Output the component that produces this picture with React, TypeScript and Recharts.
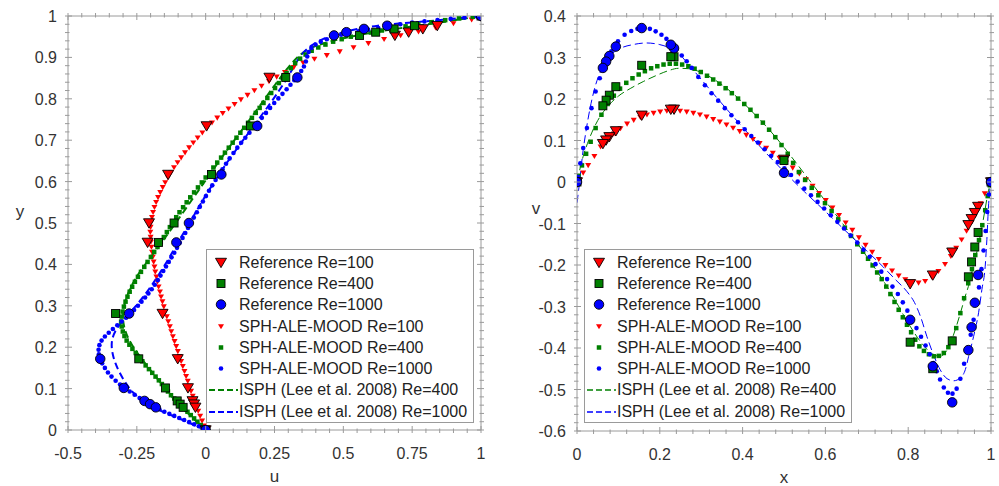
import React from "react";
import { ComposedChart, Line, XAxis, YAxis, Legend } from "recharts";

const RED = "#ff0000";
const GREEN = "#008000";
const BLUE = "#0000ff";
const AXIS = "#9a9a9a";
const TEXT = "#333333";
const FONT = "'Liberation Sans', Arial, sans-serif";

// ---------- left panel: u along the vertical centreline ----------
const REF_Y = [1, 0.9766, 0.9688, 0.9609, 0.9531, 0.8516, 0.7344, 0.6172, 0.5, 0.4531, 0.2813, 0.1719, 0.1016, 0.0703, 0.0625, 0.0547, 0];
const REF_U_100 = [1, 0.84123, 0.78871, 0.73722, 0.68717, 0.23151, 0.00332, -0.13641, -0.20581, -0.2109, -0.15662, -0.1015, -0.06434, -0.04775, -0.04192, -0.03717, 0];
const REF_U_400 = [1, 0.75837, 0.68439, 0.61756, 0.55892, 0.29093, 0.16256, 0.02135, -0.11477, -0.17119, -0.32726, -0.24299, -0.14612, -0.10338, -0.09266, -0.08186, 0];
const REF_U_1000 = [1, 0.65928, 0.57492, 0.51117, 0.46604, 0.33304, 0.18719, 0.05702, -0.0608, -0.10648, -0.27805, -0.38289, -0.2973, -0.2222, -0.20196, -0.18109, 0];

// [u, y]
const SPH_L_100 = [
  [-0.006, 0.01], [-0.013, 0.022], [-0.02, 0.034], [-0.027, 0.046], [-0.034, 0.058], [-0.041, 0.07],
  [-0.047, 0.082], [-0.053, 0.094], [-0.059, 0.106], [-0.065, 0.118], [-0.071, 0.13], [-0.077, 0.142],
  [-0.083, 0.154], [-0.089, 0.166], [-0.095, 0.178], [-0.101, 0.19], [-0.107, 0.202], [-0.113, 0.214],
  [-0.119, 0.226], [-0.125, 0.238], [-0.13, 0.25], [-0.136, 0.262], [-0.141, 0.274], [-0.147, 0.286],
  [-0.152, 0.298], [-0.157, 0.31], [-0.162, 0.322], [-0.166, 0.334], [-0.171, 0.346], [-0.175, 0.358],
  [-0.179, 0.37], [-0.183, 0.382], [-0.186, 0.394], [-0.189, 0.406], [-0.192, 0.418], [-0.195, 0.43],
  [-0.197, 0.442], [-0.199, 0.454], [-0.2, 0.466], [-0.201, 0.478], [-0.2, 0.49], [-0.198, 0.502],
  [-0.195, 0.514], [-0.191, 0.526], [-0.186, 0.538], [-0.18, 0.55], [-0.173, 0.562], [-0.165, 0.574],
  [-0.156, 0.586], [-0.147, 0.598], [-0.137, 0.61], [-0.126, 0.622], [-0.115, 0.634], [-0.102, 0.646],
  [-0.089, 0.658], [-0.075, 0.67], [-0.06, 0.682], [-0.045, 0.694], [-0.029, 0.706], [-0.012, 0.718],
  [0.005, 0.73], [0.023, 0.742], [0.042, 0.754], [0.062, 0.765], [0.083, 0.776], [0.105, 0.787],
  [0.128, 0.798], [0.152, 0.809], [0.177, 0.82], [0.203, 0.831], [0.23, 0.842], [0.258, 0.853],
  [0.288, 0.864], [0.32, 0.876], [0.354, 0.887], [0.395, 0.896], [0.44, 0.905], [0.487, 0.914],
  [0.537, 0.924], [0.591, 0.934], [0.648, 0.944], [0.708, 0.953], [0.773, 0.962], [0.835, 0.972],
  [0.9, 0.982], [0.966, 0.991],
];

const SPH_L_400 = [
  [-0.007, 0.004], [-0.018, 0.012], [-0.03, 0.02], [-0.042, 0.028], [-0.054, 0.036], [-0.066, 0.044],
  [-0.078, 0.052], [-0.09, 0.06], [-0.102, 0.068], [-0.114, 0.076], [-0.126, 0.084], [-0.137, 0.093],
  [-0.148, 0.102], [-0.159, 0.111], [-0.17, 0.12], [-0.182, 0.129], [-0.194, 0.138], [-0.206, 0.147],
  [-0.218, 0.156], [-0.23, 0.166], [-0.242, 0.176], [-0.254, 0.186], [-0.266, 0.196], [-0.277, 0.206],
  [-0.287, 0.216], [-0.295, 0.227], [-0.301, 0.238], [-0.305, 0.25], [-0.307, 0.262], [-0.305, 0.274],
  [-0.302, 0.286], [-0.297, 0.298], [-0.291, 0.31], [-0.284, 0.322], [-0.276, 0.334], [-0.267, 0.346],
  [-0.257, 0.358], [-0.246, 0.37], [-0.235, 0.382], [-0.223, 0.394], [-0.211, 0.406], [-0.199, 0.418],
  [-0.187, 0.43], [-0.175, 0.442], [-0.163, 0.454], [-0.152, 0.466], [-0.141, 0.478], [-0.13, 0.49],
  [-0.119, 0.502], [-0.107, 0.514], [-0.095, 0.526], [-0.082, 0.538], [-0.069, 0.55], [-0.056, 0.562],
  [-0.042, 0.574], [-0.028, 0.586], [-0.014, 0.598], [0, 0.61], [0.014, 0.622], [0.028, 0.634],
  [0.042, 0.646], [0.056, 0.658], [0.07, 0.67], [0.084, 0.682], [0.098, 0.694], [0.112, 0.706],
  [0.126, 0.718], [0.14, 0.73], [0.154, 0.742], [0.168, 0.754], [0.182, 0.766], [0.196, 0.778],
  [0.21, 0.79], [0.224, 0.802], [0.238, 0.814], [0.252, 0.826], [0.266, 0.838], [0.28, 0.85],
  [0.294, 0.862], [0.309, 0.874], [0.325, 0.886], [0.343, 0.897], [0.363, 0.907], [0.385, 0.916],
  [0.409, 0.924], [0.435, 0.931], [0.463, 0.938], [0.494, 0.944], [0.527, 0.95], [0.562, 0.955],
  [0.6, 0.96], [0.64, 0.965], [0.682, 0.97], [0.726, 0.975], [0.772, 0.98], [0.82, 0.985],
  [0.87, 0.99], [0.92, 0.994], [0.97, 0.998],
];

const SPH_L_1000 = [
  [-0.008, 0.003], [-0.025, 0.009], [-0.042, 0.014], [-0.06, 0.019], [-0.078, 0.024], [-0.096, 0.029],
  [-0.114, 0.034], [-0.132, 0.039], [-0.15, 0.044], [-0.168, 0.05], [-0.186, 0.056], [-0.204, 0.062],
  [-0.222, 0.069], [-0.24, 0.077], [-0.258, 0.085], [-0.276, 0.093], [-0.294, 0.101], [-0.311, 0.11],
  [-0.327, 0.119], [-0.342, 0.129], [-0.355, 0.139], [-0.366, 0.15], [-0.376, 0.161], [-0.383, 0.172],
  [-0.388, 0.183], [-0.389, 0.194], [-0.386, 0.205], [-0.378, 0.216], [-0.366, 0.226], [-0.352, 0.235],
  [-0.337, 0.244], [-0.321, 0.253], [-0.305, 0.262], [-0.289, 0.271], [-0.274, 0.28], [-0.26, 0.29],
  [-0.246, 0.3], [-0.233, 0.31], [-0.22, 0.32], [-0.208, 0.33], [-0.196, 0.34], [-0.185, 0.351],
  [-0.174, 0.362], [-0.164, 0.373], [-0.154, 0.384], [-0.144, 0.395], [-0.134, 0.406], [-0.124, 0.417],
  [-0.114, 0.428], [-0.104, 0.44], [-0.094, 0.452], [-0.084, 0.464], [-0.074, 0.476], [-0.064, 0.488],
  [-0.054, 0.5], [-0.043, 0.513], [-0.032, 0.526], [-0.021, 0.539], [-0.01, 0.552], [0.001, 0.565],
  [0.012, 0.578], [0.024, 0.591], [0.036, 0.604], [0.048, 0.617], [0.061, 0.63], [0.074, 0.643],
  [0.087, 0.656], [0.101, 0.669], [0.115, 0.682], [0.129, 0.694], [0.144, 0.706], [0.159, 0.718],
  [0.174, 0.73], [0.189, 0.742], [0.204, 0.754], [0.219, 0.766], [0.234, 0.778], [0.249, 0.79],
  [0.264, 0.801], [0.279, 0.812], [0.294, 0.823], [0.308, 0.834], [0.322, 0.845], [0.335, 0.856],
  [0.347, 0.867], [0.357, 0.878], [0.364, 0.89], [0.369, 0.902], [0.374, 0.913], [0.384, 0.923],
  [0.399, 0.931], [0.418, 0.938], [0.44, 0.944], [0.465, 0.95], [0.492, 0.955], [0.522, 0.959],
  [0.555, 0.963], [0.59, 0.967], [0.627, 0.971], [0.666, 0.976], [0.707, 0.98], [0.75, 0.984],
  [0.795, 0.987], [0.842, 0.99], [0.89, 0.993], [0.94, 0.996], [0.985, 0.999],
];

const ISPH_L_400 = [
  [0, 0], [-0.02, 0.012], [-0.045, 0.028], [-0.075, 0.047], [-0.105, 0.067], [-0.135, 0.09],
  [-0.165, 0.115], [-0.195, 0.14], [-0.228, 0.168], [-0.258, 0.195], [-0.283, 0.222], [-0.298, 0.25],
  [-0.302, 0.278], [-0.294, 0.31], [-0.275, 0.342], [-0.25, 0.372], [-0.22, 0.4], [-0.185, 0.43],
  [-0.15, 0.462], [-0.112, 0.497], [-0.072, 0.535], [-0.03, 0.575], [0.015, 0.617], [0.06, 0.66],
  [0.11, 0.705], [0.16, 0.75], [0.21, 0.795], [0.255, 0.837], [0.295, 0.872], [0.33, 0.9],
  [0.37, 0.92], [0.415, 0.932], [0.5, 0.947], [0.62, 0.962], [0.74, 0.974], [0.87, 0.986], [1, 1],
];

const ISPH_L_1000 = [
  [0, 0], [-0.03, 0.008], [-0.068, 0.02], [-0.105, 0.03], [-0.141, 0.04], [-0.178, 0.051],
  [-0.213, 0.064], [-0.24, 0.076], [-0.262, 0.089], [-0.282, 0.105], [-0.298, 0.121], [-0.315, 0.141],
  [-0.328, 0.161], [-0.337, 0.18], [-0.342, 0.2], [-0.341, 0.218], [-0.33, 0.238], [-0.31, 0.257],
  [-0.285, 0.276], [-0.258, 0.296], [-0.232, 0.317], [-0.206, 0.34], [-0.182, 0.363], [-0.158, 0.388],
  [-0.135, 0.413], [-0.112, 0.44], [-0.088, 0.467], [-0.063, 0.495], [-0.036, 0.526], [-0.008, 0.558],
  [0.022, 0.59], [0.055, 0.624], [0.09, 0.658], [0.127, 0.692], [0.165, 0.726], [0.203, 0.76],
  [0.238, 0.792], [0.265, 0.818], [0.29, 0.843], [0.312, 0.868], [0.332, 0.892], [0.355, 0.913],
  [0.385, 0.93], [0.425, 0.945], [0.48, 0.958], [0.55, 0.969], [0.62, 0.977], [0.72, 0.983],
  [0.82, 0.988], [0.91, 0.994], [1, 1],
];

// ---------- right panel: v along the horizontal centreline ----------
const REF_X = [1, 0.9688, 0.9609, 0.9531, 0.9453, 0.9063, 0.8594, 0.8047, 0.5, 0.2344, 0.2266, 0.1563, 0.0938, 0.0781, 0.0703, 0.0625, 0];
const REF_V_100 = [0, -0.05906, -0.07391, -0.08864, -0.10313, -0.16914, -0.22445, -0.24533, 0.05454, 0.17527, 0.17507, 0.16077, 0.12317, 0.1089, 0.10091, 0.09233, 0];
const REF_V_400 = [0, -0.12146, -0.15663, -0.19254, -0.22847, -0.38289, -0.44993, -0.38598, 0.05186, 0.30174, 0.30203, 0.28124, 0.22965, 0.2092, 0.19713, 0.1836, 0];
const REF_V_1000 = [0, -0.224, -0.291, -0.35, -0.405, -0.531, -0.444, -0.332, 0.022, 0.32235, 0.33075, 0.37095, 0.32627, 0.30353, 0.29012, 0.27485, 0];

// [x, v]
const SPH_R_100 = [
  [0.005, 0.006], [0.015, 0.022], [0.027, 0.04], [0.042, 0.062], [0.057, 0.085], [0.073, 0.101],
  [0.089, 0.116], [0.105, 0.129], [0.121, 0.14], [0.137, 0.149], [0.153, 0.156], [0.169, 0.162],
  [0.185, 0.166], [0.201, 0.169], [0.217, 0.171], [0.233, 0.172], [0.249, 0.171], [0.265, 0.169],
  [0.281, 0.166], [0.297, 0.162], [0.313, 0.157], [0.329, 0.151], [0.345, 0.145], [0.361, 0.138],
  [0.377, 0.13], [0.393, 0.122], [0.409, 0.113], [0.425, 0.103], [0.441, 0.093], [0.457, 0.082],
  [0.473, 0.07], [0.489, 0.058], [0.505, 0.046], [0.521, 0.034], [0.537, 0.02], [0.553, 0.006],
  [0.569, -0.01], [0.585, -0.027], [0.601, -0.044], [0.617, -0.062], [0.633, -0.08], [0.649, -0.098],
  [0.665, -0.116], [0.681, -0.134], [0.697, -0.152], [0.713, -0.169], [0.729, -0.186], [0.745, -0.201],
  [0.761, -0.214], [0.777, -0.226], [0.793, -0.235], [0.809, -0.241], [0.825, -0.243], [0.841, -0.239],
  [0.857, -0.229], [0.873, -0.215], [0.889, -0.198], [0.903, -0.179], [0.916, -0.159], [0.929, -0.139],
  [0.941, -0.118], [0.953, -0.097], [0.964, -0.075], [0.975, -0.052], [0.985, -0.028], [0.994, -0.005],
];

const SPH_R_400 = [
  [0.004, 0.015], [0.012, 0.04], [0.022, 0.068], [0.033, 0.097], [0.045, 0.13], [0.059, 0.162],
  [0.074, 0.188], [0.089, 0.208], [0.104, 0.225], [0.119, 0.239], [0.134, 0.25], [0.149, 0.259],
  [0.164, 0.267], [0.179, 0.274], [0.194, 0.279], [0.209, 0.283], [0.224, 0.285], [0.239, 0.285],
  [0.254, 0.283], [0.269, 0.279], [0.284, 0.273], [0.299, 0.265], [0.314, 0.256], [0.329, 0.247],
  [0.344, 0.237], [0.359, 0.226], [0.374, 0.214], [0.389, 0.201], [0.404, 0.188], [0.419, 0.174],
  [0.434, 0.159], [0.449, 0.143], [0.464, 0.126], [0.479, 0.108], [0.494, 0.089], [0.509, 0.068],
  [0.522, 0.046], [0.536, 0.024], [0.551, 0.005], [0.567, -0.014], [0.583, -0.032], [0.599, -0.051],
  [0.615, -0.07], [0.631, -0.09], [0.647, -0.11], [0.662, -0.13], [0.677, -0.15], [0.691, -0.168],
  [0.703, -0.185], [0.714, -0.201], [0.725, -0.218], [0.736, -0.234], [0.747, -0.252], [0.757, -0.27],
  [0.767, -0.289], [0.777, -0.308], [0.787, -0.326], [0.797, -0.344], [0.807, -0.362], [0.817, -0.38],
  [0.827, -0.396], [0.838, -0.407], [0.85, -0.415], [0.862, -0.42], [0.874, -0.419], [0.886, -0.412],
  [0.897, -0.398], [0.907, -0.378], [0.916, -0.352], [0.926, -0.316], [0.935, -0.28], [0.945, -0.244],
  [0.954, -0.21], [0.962, -0.176], [0.971, -0.14], [0.979, -0.104], [0.986, -0.068], [0.992, -0.034],
  [0.997, -0.008],
];

const SPH_R_1000 = [
  [0.003, 0.012], [0.008, 0.045], [0.015, 0.082], [0.024, 0.13], [0.035, 0.178], [0.045, 0.218],
  [0.055, 0.25], [0.068, 0.285], [0.083, 0.315], [0.099, 0.339], [0.115, 0.355], [0.131, 0.364],
  [0.146, 0.369], [0.161, 0.371], [0.176, 0.369], [0.19, 0.363], [0.204, 0.355], [0.216, 0.345],
  [0.228, 0.333], [0.24, 0.319], [0.253, 0.305], [0.265, 0.291], [0.277, 0.275], [0.293, 0.253],
  [0.309, 0.233], [0.325, 0.214], [0.341, 0.196], [0.357, 0.178], [0.373, 0.161], [0.389, 0.144],
  [0.405, 0.127], [0.421, 0.111], [0.437, 0.095], [0.453, 0.079], [0.469, 0.063], [0.485, 0.048],
  [0.501, 0.033], [0.517, 0.017], [0.533, 0.001], [0.549, -0.016], [0.565, -0.032], [0.581, -0.048],
  [0.597, -0.064], [0.613, -0.08], [0.629, -0.096], [0.645, -0.112], [0.661, -0.129], [0.677, -0.146],
  [0.692, -0.163], [0.707, -0.18], [0.721, -0.198], [0.735, -0.216], [0.749, -0.234], [0.762, -0.252],
  [0.775, -0.27], [0.787, -0.29], [0.798, -0.31], [0.809, -0.331], [0.82, -0.352], [0.831, -0.373],
  [0.842, -0.394], [0.852, -0.415], [0.861, -0.436], [0.869, -0.456], [0.877, -0.476], [0.886, -0.495],
  [0.896, -0.508], [0.907, -0.51], [0.917, -0.498], [0.926, -0.474], [0.935, -0.438], [0.943, -0.403],
  [0.951, -0.368], [0.958, -0.332], [0.965, -0.294], [0.971, -0.254], [0.977, -0.21], [0.982, -0.165],
  [0.987, -0.118], [0.991, -0.072], [0.995, -0.03],
];

const ISPH_R_400 = [
  [0, 0], [0.008, 0.035], [0.015, 0.062], [0.03, 0.105], [0.05, 0.148], [0.075, 0.183],
  [0.1, 0.207], [0.13, 0.226], [0.16, 0.242], [0.19, 0.256], [0.22, 0.268], [0.245, 0.274],
  [0.27, 0.273], [0.3, 0.264], [0.33, 0.248], [0.36, 0.227], [0.4, 0.192], [0.44, 0.152],
  [0.48, 0.108], [0.52, 0.058], [0.56, 0.006], [0.6, -0.046], [0.64, -0.098], [0.68, -0.152],
  [0.72, -0.208], [0.76, -0.27], [0.8, -0.34], [0.83, -0.385], [0.861, -0.416], [0.877, -0.42],
  [0.889, -0.412], [0.902, -0.388], [0.914, -0.355], [0.926, -0.316], [0.938, -0.275], [0.95, -0.235],
  [0.958, -0.198], [0.966, -0.168], [0.976, -0.12], [0.985, -0.07], [0.993, -0.025], [1, 0],
];

const ISPH_R_1000 = [
  [0, -0.05], [0.0065, 0.002], [0.013, 0.062], [0.021, 0.118], [0.031, 0.175], [0.043, 0.227],
  [0.059, 0.271], [0.079, 0.303], [0.107, 0.323], [0.135, 0.331], [0.168, 0.335], [0.2, 0.331],
  [0.224, 0.323], [0.248, 0.307], [0.273, 0.279], [0.297, 0.251], [0.33, 0.212], [0.37, 0.166],
  [0.41, 0.121], [0.45, 0.077], [0.5, 0.025], [0.55, -0.024], [0.6, -0.071], [0.65, -0.119],
  [0.7, -0.166], [0.74, -0.205], [0.77, -0.236], [0.797, -0.264], [0.815, -0.29], [0.83, -0.325],
  [0.845, -0.372], [0.861, -0.416], [0.877, -0.452], [0.894, -0.474], [0.91, -0.479], [0.926, -0.472],
  [0.938, -0.452], [0.946, -0.42], [0.958, -0.372], [0.97, -0.315], [0.978, -0.259], [0.986, -0.203],
  [0.99, -0.139], [0.994, -0.058], [0.998, -0.01],
];

// ---------- axis ticks ----------
const U_MAJOR = [-0.5, -0.25, 0, 0.25, 0.5, 0.75, 1];
const Y_MAJOR = [0, 0.1, 0.2, 0.3, 0.4, 0.5, 0.6, 0.7, 0.8, 0.9, 1];
const X_MAJOR = [0, 0.2, 0.4, 0.6, 0.8, 1];
const V_MAJOR = [-0.6, -0.5, -0.4, -0.3, -0.2, -0.1, 0, 0.1, 0.2, 0.3, 0.4];

const LABELS = [
  "Reference Re=100",
  "Reference Re=400",
  "Reference Re=1000",
  "SPH-ALE-MOOD Re=100",
  "SPH-ALE-MOOD Re=400",
  "SPH-ALE-MOOD Re=1000",
  "ISPH (Lee et al. 2008) Re=400",
  "ISPH (Lee et al. 2008) Re=1000",
];

type Shape = "tri" | "square" | "circle";
type Pt = { x: number; y: number };

function withMinor(majors: number[], parts: number) {
  const out: number[] = [];
  majors.forEach((m, i) => {
    out.push(m);
    const next = majors[i + 1];
    if (next === undefined) return;
    for (let k = 1; k < parts; k++) out.push(m + ((next - m) * k) / parts);
  });
  return out;
}

const fromColumns = (xs: number[], ys: number[]): Pt[] => xs.map((x, i) => ({ x, y: ys[i] }));
const fromPairs = (pairs: number[][]): Pt[] => pairs.map(([x, y]) => ({ x, y }));

function Marker({ cx, cy, shape, size, fill, edge }: { cx: number; cy: number; shape: Shape; size: number; fill: string; edge: boolean }) {
  if (cx == null || cy == null || isNaN(cx) || isNaN(cy)) return null;
  const stroke = edge ? "#000" : "none";
  if (shape === "tri") {
    const w = size / 2;
    const h = size * 0.85;
    const pts = `${cx - w},${cy - h * 0.45} ${cx + w},${cy - h * 0.45} ${cx},${cy + h * 0.55}`;
    return <polygon points={pts} fill={fill} stroke={stroke} strokeWidth={0.9} />;
  }
  if (shape === "square") {
    return <rect x={cx - size / 2} y={cy - size / 2} width={size} height={size} fill={fill} stroke={stroke} strokeWidth={0.9} />;
  }
  return <circle cx={cx} cy={cy} r={size / 2} fill={fill} stroke={stroke} strokeWidth={0.9} />;
}

type Side = "bottom" | "top" | "left" | "right";

function axisTick(side: Side, majors: number[], labelled: boolean) {
  return (p: any) => {
    const { x, y, payload } = p;
    const v = payload.value as number;
    const major = majors.some((m) => Math.abs(m - v) < 1e-9);
    const out = 3;
    const inn = major ? 4 : 1.5;
    let tick;
    let label = null;
    if (side === "bottom") {
      tick = <line x1={x} x2={x} y1={y + out} y2={y - inn} stroke={AXIS} />;
      if (labelled && major)
        label = <text x={x} y={y + 29} textAnchor="middle" fill={TEXT} fontSize={16} fontFamily={FONT}>{String(v)}</text>;
    } else if (side === "top") {
      tick = <line x1={x} x2={x} y1={y - out} y2={y + inn} stroke={AXIS} />;
    } else if (side === "left") {
      tick = <line x1={x - out} x2={x + inn} y1={y} y2={y} stroke={AXIS} />;
      if (labelled && major)
        label = <text x={x - 11} y={y + 6} textAnchor="end" fill={TEXT} fontSize={16} fontFamily={FONT}>{String(v)}</text>;
    } else {
      tick = <line x1={x + out} x2={x - inn} y1={y} y2={y} stroke={AXIS} />;
    }
    return (
      <g>
        {tick}
        {label}
      </g>
    );
  };
}

const axisTitle = (text: string, where: "x" | "y", dx: number, dy = -6) => (props: any) => {
  const vb = props.viewBox || { x: 0, y: 0, width: 0, height: 0 };
  const x = where === "x" ? vb.x + vb.width / 2 : vb.x + dx;
  const y = where === "x" ? vb.y + 52 : vb.y + vb.height / 2 + dy;
  return (
    <text x={x} y={y} textAnchor="middle" fill={TEXT} fontSize={17} fontFamily={FONT}>
      {text}
    </text>
  );
};

type SeriesStyle = { kind: "ref" | "sph" | "dash"; shape?: Shape; color: string };
const STYLES: SeriesStyle[] = [
  { kind: "ref", shape: "tri", color: RED },
  { kind: "ref", shape: "square", color: GREEN },
  { kind: "ref", shape: "circle", color: BLUE },
  { kind: "sph", shape: "tri", color: RED },
  { kind: "sph", shape: "square", color: GREEN },
  { kind: "sph", shape: "circle", color: BLUE },
  { kind: "dash", color: GREEN },
  { kind: "dash", color: BLUE },
];

const markerSize = (s: SeriesStyle) =>
  s.kind === "ref" ? (s.shape === "tri" ? 11 : s.shape === "square" ? 8 : 9.5) : s.shape === "tri" ? 6 : s.shape === "square" ? 4.5 : 4.6;

function LegendBox({ dashWidth }: { dashWidth: number }) {
  return (
    <div
      style={{
        boxSizing: "border-box",
        width: "100%",
        height: "100%",
        border: `1px solid ${AXIS}`,
        background: "#fff",
        paddingTop: 1.5,
        fontFamily: FONT,
        fontSize: 16,
        color: "#222",
      }}
    >
      {LABELS.map((label, i) => {
        const s = STYLES[i];
        return (
          <div key={label} style={{ display: "flex", alignItems: "center", height: 21.3 }}>
            <svg width={32} height={21} style={{ flex: "none" }}>
              {s.kind === "dash" ? (
                <line x1={2} x2={31} y1={11} y2={11} stroke={s.color} strokeWidth={Math.max(dashWidth, 1.4)} strokeDasharray="6 3" />
              ) : (
                <Marker cx={14} cy={10.5} shape={s.shape as Shape} size={markerSize(s)} fill={s.color} edge={s.kind === "ref"} />
              )}
            </svg>
            <span style={{ whiteSpace: "nowrap", lineHeight: "21px" }}>{label}</span>
          </div>
        );
      })}
    </div>
  );
}

type PanelProps = {
  series: Pt[][];
  xDomain: [number, number];
  yDomain: [number, number];
  xMajor: number[];
  yMajor: number[];
  xParts: number;
  yParts: number;
  xTitle: string;
  yTitle: string;
  width: number;
  margin: { top: number; right: number; bottom: number; left: number };
  yAxisWidth: number;
  xAxisHeight: number;
  yTitleDx: number;
  yTitleDy: number;
  curve: "basis" | "monotone";
  dashWidth: number;
  dash: string;
  legendPos: { left: number; top: number; width: number; height: number };
};

function Panel(p: PanelProps) {
  const xTicks = withMinor(p.xMajor, p.xParts);
  const yTicks = withMinor(p.yMajor, p.yParts);
  const order = [3, 4, 5, 6, 7, 0, 1, 2];
  return (
    <ComposedChart width={p.width} height={486} margin={p.margin}>
      <XAxis
        xAxisId="b"
        type="number"
        dataKey="x"
        domain={p.xDomain}
        allowDataOverflow
        ticks={xTicks}
        interval={0}
        tickSize={0}
        tickMargin={0}
        tickLine={false}
        axisLine={{ stroke: AXIS }}
        height={p.xAxisHeight}
        tick={axisTick("bottom", p.xMajor, true)}
        label={{ content: axisTitle(p.xTitle, "x", 0) }}
      />
      <XAxis
        xAxisId="t"
        orientation="top"
        type="number"
        dataKey="x"
        domain={p.xDomain}
        allowDataOverflow
        ticks={xTicks}
        interval={0}
        tickSize={0}
        tickMargin={0}
        tickLine={false}
        axisLine={{ stroke: AXIS }}
        height={4}
        tick={axisTick("top", p.xMajor, false)}
      />
      <YAxis
        yAxisId="l"
        type="number"
        dataKey="y"
        domain={p.yDomain}
        allowDataOverflow
        ticks={yTicks}
        interval={0}
        tickSize={0}
        tickMargin={0}
        tickLine={false}
        axisLine={{ stroke: AXIS }}
        width={p.yAxisWidth}
        tick={axisTick("left", p.yMajor, true)}
        label={{ content: axisTitle(p.yTitle, "y", p.yTitleDx, p.yTitleDy) }}
      />
      <YAxis
        yAxisId="r"
        orientation="right"
        type="number"
        dataKey="y"
        domain={p.yDomain}
        allowDataOverflow
        ticks={yTicks}
        interval={0}
        tickSize={0}
        tickMargin={0}
        tickLine={false}
        axisLine={{ stroke: AXIS }}
        width={4}
        tick={axisTick("right", p.yMajor, false)}
      />
      {order.map((i) => {
        const s = STYLES[i];
        if (s.kind === "dash") {
          return (
            <Line
              key={LABELS[i]}
              name={LABELS[i]}
              data={p.series[i]}
              dataKey="y"
              xAxisId="b"
              yAxisId="l"
              type={p.curve}
              stroke={s.color}
              strokeWidth={p.dashWidth}
              strokeDasharray={p.dash}
              dot={false}
              activeDot={false}
              isAnimationActive={false}
            />
          );
        }
        return (
          <Line
            key={LABELS[i]}
            name={LABELS[i]}
            data={p.series[i]}
            dataKey="y"
            xAxisId="b"
            yAxisId="l"
            stroke="none"
            activeDot={false}
            dot={(d: any) => (
              <Marker
                key={`${i}-${d.index}`}
                cx={d.cx}
                cy={d.cy}
                shape={s.shape as Shape}
                size={markerSize(s)}
                fill={s.color}
                edge={s.kind === "ref"}
              />
            )}
            isAnimationActive={false}
          />
        );
      })}
      <Legend
        layout="vertical"
        align="center"
        verticalAlign="middle"
        content={() => <LegendBox dashWidth={p.dashWidth} />}
        wrapperStyle={{ ...p.legendPos, position: "absolute" }}
      />
    </ComposedChart>
  );
}

export default function App() {
  const leftSeries = [
    fromColumns(REF_U_100, REF_Y),
    fromColumns(REF_U_400, REF_Y),
    fromColumns(REF_U_1000, REF_Y),
    fromPairs(SPH_L_100),
    fromPairs(SPH_L_400),
    fromPairs(SPH_L_1000),
    fromPairs(ISPH_L_400),
    fromPairs(ISPH_L_1000),
  ];
  const rightSeries = [
    fromColumns(REF_X, REF_V_100),
    fromColumns(REF_X, REF_V_400),
    fromColumns(REF_X, REF_V_1000),
    fromPairs(SPH_R_100),
    fromPairs(SPH_R_400),
    fromPairs(SPH_R_1000),
    fromPairs(ISPH_R_400),
    fromPairs(ISPH_R_1000),
  ];

  return (
    <div style={{ position: "absolute", left: 0, top: 0, width: 999, height: 486, background: "#fff", fontFamily: FONT }}>
      <div style={{ position: "absolute", left: 0, top: 0 }}>
        <Panel
          series={leftSeries}
          xDomain={[-0.5, 1]}
          yDomain={[0, 1]}
          xMajor={U_MAJOR}
          yMajor={Y_MAJOR}
          xParts={5}
          yParts={5}
          xTitle="u"
          yTitle="y"
          width={500}
          margin={{ top: 12, right: 15, bottom: 0, left: 18 }}
          yAxisWidth={50}
          xAxisHeight={56}
          yTitleDx={2}
          yTitleDy={-6}
          curve="basis"
          dashWidth={2}
          dash="7 4"
          legendPos={{ left: 206, top: 249, width: 268, height: 174 }}
        />
      </div>
      <div style={{ position: "absolute", left: 500, top: 0 }}>
        <Panel
          series={rightSeries}
          xDomain={[0, 1]}
          yDomain={[-0.6, 0.4]}
          xMajor={X_MAJOR}
          yMajor={V_MAJOR}
          xParts={5}
          yParts={5}
          xTitle="x"
          yTitle="v"
          width={499}
          margin={{ top: 12, right: 4, bottom: 0, left: 17 }}
          yAxisWidth={60}
          xAxisHeight={55}
          yTitleDx={19}
          yTitleDy={-10}
          curve="monotone"
          dashWidth={1}
          dash="8 4"
          legendPos={{ left: 84, top: 249, width: 268, height: 174 }}
        />
      </div>
    </div>
  );
}
